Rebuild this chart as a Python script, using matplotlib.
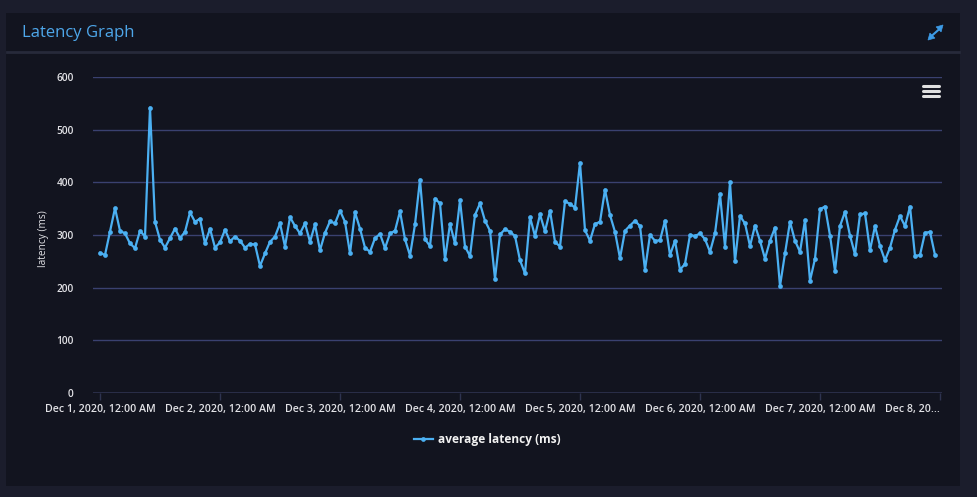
import numpy as np
import pandas as pd
import matplotlib
matplotlib.use("Agg")
import matplotlib.pyplot as plt
from matplotlib.patches import Rectangle, Polygon
from matplotlib.lines import Line2D

plt.rcParams['font.family'] = ['Open Sans', 'DejaVu Sans']

title = "Latency Graph"
series_name = "average latency (ms)"
y_label = "latency (ms)"
start = "2020-12-01 00:00"
latency = [
    266, 262, 306, 351, 308, 303, 284, 275, 308, 297, 542, 325, 291, 276, 294, 312,
    294, 306, 343, 325, 331, 284, 312, 276, 286, 310, 288, 297, 289, 276, 283, 282,
    241, 265, 287, 297, 322, 278, 334, 317, 303, 322, 287, 320, 271, 304, 326, 322,
    346, 325, 265, 343, 312, 276, 268, 294, 302, 275, 303, 308, 345, 292, 261, 320,
    405, 292, 279, 369, 360, 254, 321, 284, 366, 278, 260, 338, 360, 327, 308, 217,
    301, 311, 306, 298, 252, 227, 334, 298, 339, 307, 346, 287, 278, 364, 359, 352,
    437, 309, 289, 321, 325, 386, 338, 306, 256, 308, 318, 327, 317, 234, 300, 289,
    290, 327, 262, 289, 234, 245, 300, 298, 303, 292, 268, 303, 378, 278, 400, 250,
    336, 322, 279, 318, 289, 255, 289, 314, 203, 265, 325, 289, 268, 328, 213, 255,
    349, 354, 299, 232, 317, 344, 299, 263, 339, 341, 271, 317, 279, 252, 276, 310,
    336, 317, 354, 260, 262, 304, 306, 262,
]
y_ticks = [0, 100, 200, 300, 400, 500, 600]
x_tick_labels = [
    "Dec 1, 2020, 12:00 AM", "Dec 2, 2020, 12:00 AM", "Dec 3, 2020, 12:00 AM",
    "Dec 4, 2020, 12:00 AM", "Dec 5, 2020, 12:00 AM", "Dec 6, 2020, 12:00 AM",
    "Dec 7, 2020, 12:00 AM", "Dec 8, 20...",
]

times = pd.date_range(start, periods=len(latency), freq="h")
tick_times = pd.date_range(start, periods=len(x_tick_labels), freq="D")

W, H = 977, 497
fig = plt.figure(figsize=(W / 100, H / 100), dpi=100)
fig.patch.set_facecolor("#1b1d2c")

def fx(px):
    return px / W

def fy(py):
    return 1 - py / H

def fp(pts):
    return [(fx(a), fy(b)) for a, b in pts]

text_c = "#e2e2e6"
icon_c = "#3d9be6"

# panel
fig.add_artist(Rectangle((fx(6), fy(486)), fx(960 - 6), (486 - 13) / H,
                         transform=fig.transFigure, facecolor="#12141f",
                         edgecolor="none", zorder=0))
fig.add_artist(Line2D([fx(7), fx(959)], [fy(52), fy(52)], transform=fig.transFigure,
                      color="#272a3a", lw=2, zorder=1))
fig.text(fx(22), fy(33), title, color="#4ea7ea", fontsize=12, va="center", ha="left")

# expand icon: diagonal line with two triangular heads
fig.add_artist(Line2D([fx(931), fx(940)], [fy(36.5), fy(28.5)], transform=fig.transFigure,
                      color=icon_c, lw=1.5, zorder=3))
r = 2.5
for tip, base in (((943, 25), (938.6, 29.4)), ((928, 40), (932.4, 35.6))):
    tri = [tip, (base[0] - r, base[1] - r), (base[0] + r, base[1] + r)]
    fig.add_artist(Polygon(fp(tri), closed=True, transform=fig.transFigure,
                           facecolor=icon_c, edgecolor=icon_c, lw=0.5, zorder=3))

# hamburger icon
for yy in (86, 91, 96):
    fig.add_artist(Line2D([fx(923), fx(939)], [fy(yy), fy(yy)], transform=fig.transFigure,
                          color="#e0e0e0", lw=2.2, solid_capstyle="round", zorder=3))

ax = fig.add_axes([fx(93), fy(393), fx(942 - 93), (393 - 77) / H])
ax.set_facecolor("none")
grid_c = "#3a4170"
ax.plot(times, latency, color="#4bb0f2", lw=1.6, marker="o", markersize=3.4,
        markeredgewidth=0, zorder=3, label=series_name)

x0 = pd.Timestamp(start)
ax.set_xlim(x0 - pd.Timedelta(hours=1.4), x0 + pd.Timedelta(hours=168.4))
ax.set_ylim(0, 600)
ax.set_yticks(y_ticks)
ax.set_yticklabels([str(v) for v in y_ticks])
for v in y_ticks[1:]:
    ax.axhline(v, color=grid_c, lw=1, zorder=1)
ax.axhline(0, color="#2e3350", lw=1.2, zorder=1)
ax.set_xticks(tick_times)
ax.set_xticklabels(x_tick_labels)
for s in ax.spines.values():
    s.set_visible(False)
ax.tick_params(axis="y", length=0, pad=14, labelsize=7.3, labelcolor=text_c)
ax.tick_params(axis="x", length=5, width=1, color="#2e3350", pad=3, labelsize=7.7,
               labelcolor=text_c)
for lab in ax.get_xticklabels() + ax.get_yticklabels():
    lab.set_fontweight("semibold")
labels = ax.get_xticklabels()
labels[-1].set_horizontalalignment("right")
ax.set_ylabel(y_label, color=text_c, fontsize=7.3)
ax.yaxis.set_label_coords((49 - 93) / (942 - 93), 0.49)

leg = fig.legend(handles=[Line2D([], [], color="#4bb0f2", lw=1.6, marker="o",
                                 markersize=3.4, markeredgewidth=0)],
                 labels=[series_name], loc="center", bbox_to_anchor=(fx(487), fy(440)),
                 frameon=False, handlelength=1.6, handletextpad=0.4,
                 prop={"size": 8.6, "weight": "bold"})
for t in leg.get_texts():
    t.set_color("#f2f2f2")

fig.savefig("out.png", dpi=100, facecolor=fig.get_facecolor())
